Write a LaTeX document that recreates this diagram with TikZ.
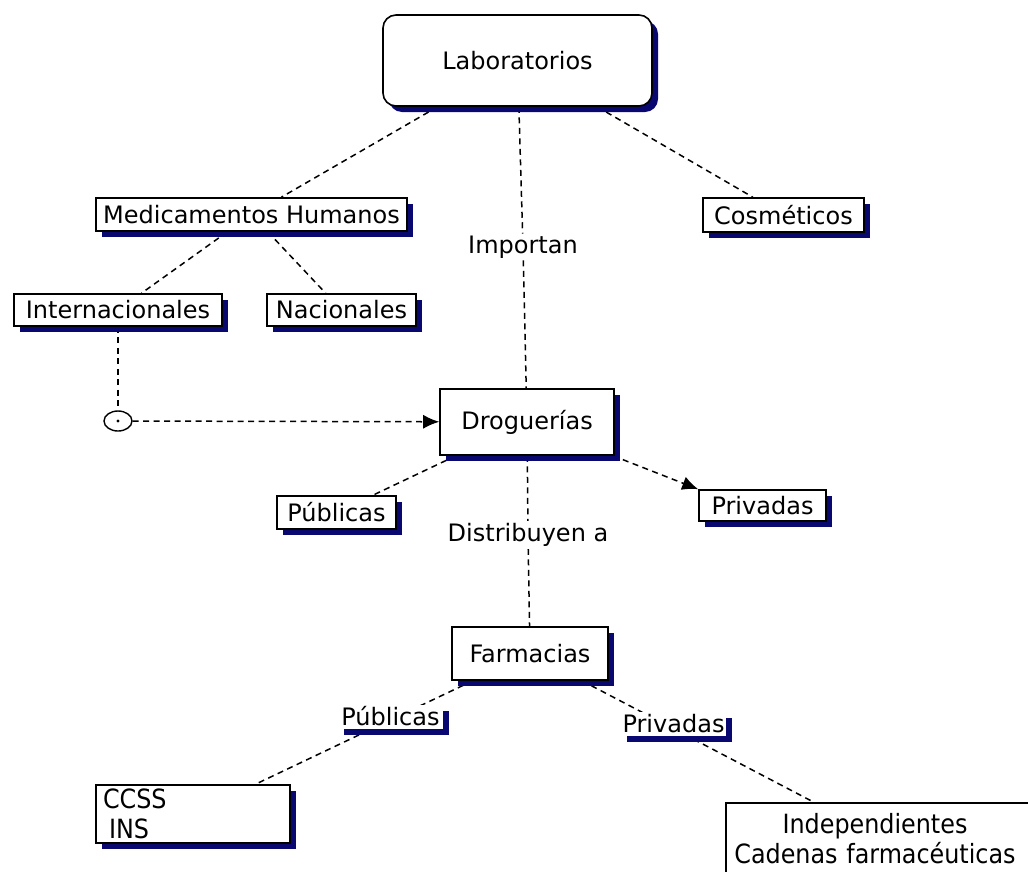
\documentclass[tikz,border=0pt]{standalone}
\usepackage{fontspec}
\setmainfont{DejaVu Sans}
\newfontfamily\condfont{DejaVu Sans Condensed}
\usetikzlibrary{shapes.geometric,shadows,arrows.meta,backgrounds}
\definecolor{sombra}{RGB}{8,8,112}
\tikzset{
	sombreado/.style={drop shadow={shadow xshift=6pt,shadow yshift=-6pt,fill=sombra,opacity=1}},
	caja/.style={draw,line width=1.6pt,fill=white,inner sep=0pt,sombreado},
	etiqueta/.style={fill=white,inner sep=0pt,sombreado},
	enlace/.style={line width=1.5pt,dash pattern=on 6pt off 4.5pt},
	punta/.style={-{Latex[length=16pt,width=14pt]}},
	texto/.style={fill=white,inner sep=2pt}
}
\begin{document}
\begin{tikzpicture}[x=1pt,y=-1pt,font=\fontsize{24}{28}\selectfont]
	\useasboundingbox (0,0) rectangle (1028,871);
	% nodos
	\node[caja,rounded corners=13pt,minimum width=269pt,minimum height=91pt] (lab) at (517.5,60.5) {Laboratorios};
	\node[caja,minimum width=311pt,minimum height=33pt] (med) at (251.5,214.5) {Medicamentos Humanos};
	\node[caja,minimum width=161pt,minimum height=34pt] (cos) at (783.5,215) {Cosméticos};
	\node[caja,minimum width=208pt,minimum height=32pt] (inter) at (118,310) {Internacionales};
	\node[caja,minimum width=149pt,minimum height=32pt] (nac) at (341.5,310) {Nacionales};
	\node[draw,line width=1.4pt,ellipse,minimum width=28pt,minimum height=20pt,inner sep=0pt] (ell) at (118,421) {};
	\fill (ell.center) circle (1.6pt);
	\node[caja,minimum width=174pt,minimum height=66pt] (drog) at (527,422) {Droguerías};
	\node[caja,minimum width=119pt,minimum height=33pt] (pub1) at (336.5,512.5) {Públicas};
	\node[caja,minimum width=127pt,minimum height=31pt] (priv1) at (762.5,505.5) {Privadas};
	\node[caja,minimum width=156pt,minimum height=53pt] (farm) at (530,653.5) {Farmacias};
	\node[etiqueta,minimum width=105pt,minimum height=24pt] (pub2) at (390.5,716.5) {Públicas};
	\node[etiqueta,minimum width=105pt,minimum height=24pt] (priv2) at (673.5,724) {Privadas};
	\node[caja,minimum width=194pt,minimum height=58pt,text width=180pt,align=left,
		font=\condfont\fontsize{26.5}{29.5}\selectfont] (ccss) at (193,814) {CCSS\\\hspace*{6pt}INS};
	\node[draw,line width=1.6pt,fill=white,inner sep=0pt,minimum width=316pt,minimum height=72pt,
		text width=316pt,align=center,font=\condfont\fontsize{26.5}{30}\selectfont] (indep) at (884,839)
		{Independientes\rule{18pt}{0pt}\\Cadenas farmacéuticas\rule{18pt}{0pt}};
	\node[texto] (imp) at (523,247) {Importan};
	\node[texto] (dist) at (528,535) {Distribuyen a};
	% enlaces
	\begin{pgfonlayer}{background}
	\draw[enlace] (lab) -- (med);
	\draw[enlace] (lab) -- (cos);
	\draw[enlace] (lab) -- (imp) -- (drog);
	\draw[enlace] (med) -- (inter);
	\draw[enlace] (med) -- (nac);
	\draw[enlace] (inter) -- (ell);
	\draw[enlace,punta] (ell) -- (drog);
	\draw[enlace] (drog) -- (pub1);
	\draw[enlace,punta] (drog) -- (priv1.north west);
	\draw[enlace] (drog) -- (dist) -- (farm);
	\draw[enlace] (farm) -- (ccss);
	\draw[enlace] (farm) -- (indep);
	\end{pgfonlayer}
\end{tikzpicture}
\end{document}
